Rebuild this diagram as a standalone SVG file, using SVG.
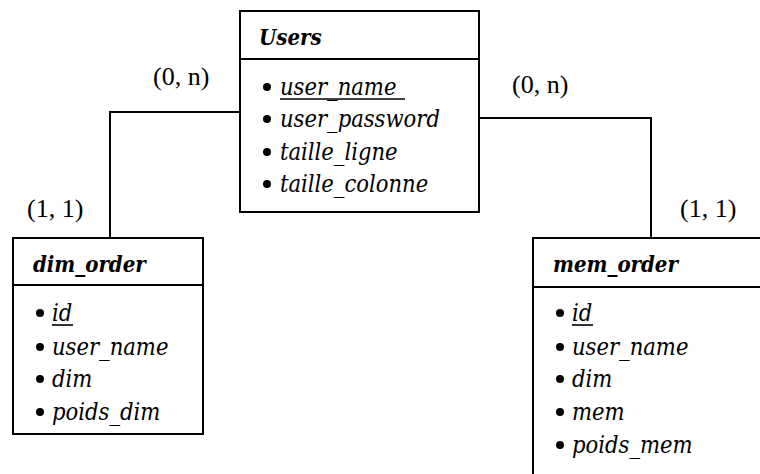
<svg xmlns="http://www.w3.org/2000/svg" width="760" height="474" viewBox="0 0 760 474">
  <style>
    .box { fill: #ffffff; stroke: #000000; stroke-width: 2; }
    .sep { stroke: #000000; stroke-width: 2; }
    .link { fill: none; stroke: #000000; stroke-width: 2; }
    .title { font-family: "DejaVu Serif", "Liberation Serif", serif; font-style: italic; font-weight: bold; font-stretch: condensed; font-size: 22px; fill: #000000; }
    .attr { font-family: "DejaVu Serif", "Liberation Serif", serif; font-style: italic; font-stretch: condensed; font-size: 23.5px; fill: #000000; }
    .card { font-family: "Liberation Serif", "Times New Roman", serif; font-size: 26px; fill: #000000; }
    .dot { fill: #000000; }
    .uline { stroke: #000000; stroke-width: 1.6; }
  </style>

  <!-- associations between entities -->
  <g id="connectors">
    <polyline class="link" points="240,112 110,112 110,238"/>
    <polyline class="link" points="479,118 651,118 651,238"/>
    <text class="card" x="153" y="85">(0, n)</text>
    <text class="card" x="27" y="217">(1, 1)</text>
    <text class="card" x="512" y="93">(0, n)</text>
    <text class="card" x="680" y="217">(1, 1)</text>
  </g>

  <!-- Users entity -->
  <g id="users">
    <rect class="box" x="240" y="11" width="239" height="201"/>
    <line class="sep" x1="240" y1="59" x2="479" y2="59"/>
    <text class="title" x="259" y="45">Users</text>
    <circle class="dot" cx="267" cy="87" r="4"/>
    <text class="attr" x="280" y="95">user_name</text>
    <line class="uline" x1="280" y1="99" x2="405" y2="99"/>
    <circle class="dot" cx="267" cy="119" r="4"/>
    <text class="attr" x="280" y="127">user_password</text>
    <circle class="dot" cx="267" cy="152" r="4"/>
    <text class="attr" x="280" y="160">taille_ligne</text>
    <circle class="dot" cx="267" cy="184" r="4"/>
    <text class="attr" x="280" y="192">taille_colonne</text>
  </g>

  <!-- dim_order entity -->
  <g id="dim_order">
    <rect class="box" x="13" y="238" width="190" height="196"/>
    <line class="sep" x1="13" y1="285" x2="203" y2="285"/>
    <text class="title" x="33" y="272">dim_order</text>
    <circle class="dot" cx="40" cy="313" r="4"/>
    <text class="attr" x="52" y="321">id</text>
    <line class="uline" x1="52" y1="325" x2="73" y2="325"/>
    <circle class="dot" cx="40" cy="347" r="4"/>
    <text class="attr" x="52" y="355">user_name</text>
    <circle class="dot" cx="40" cy="379" r="4"/>
    <text class="attr" x="52" y="387">dim</text>
    <circle class="dot" cx="40" cy="412" r="4"/>
    <text class="attr" x="52" y="420">poids_dim</text>
  </g>

  <!-- mem_order entity -->
  <g id="mem_order">
    <rect class="box" x="533" y="238" width="240" height="250"/>
    <line class="sep" x1="533" y1="287" x2="773" y2="287"/>
    <text class="title" x="553" y="272">mem_order</text>
    <circle class="dot" cx="560" cy="313" r="4"/>
    <text class="attr" x="572" y="321">id</text>
    <line class="uline" x1="572" y1="325" x2="593" y2="325"/>
    <circle class="dot" cx="560" cy="347" r="4"/>
    <text class="attr" x="572" y="355">user_name</text>
    <circle class="dot" cx="560" cy="379" r="4"/>
    <text class="attr" x="572" y="387">dim</text>
    <circle class="dot" cx="560" cy="412" r="4"/>
    <text class="attr" x="572" y="420">mem</text>
    <circle class="dot" cx="560" cy="445" r="4"/>
    <text class="attr" x="572" y="453">poids_mem</text>
  </g>
</svg>
